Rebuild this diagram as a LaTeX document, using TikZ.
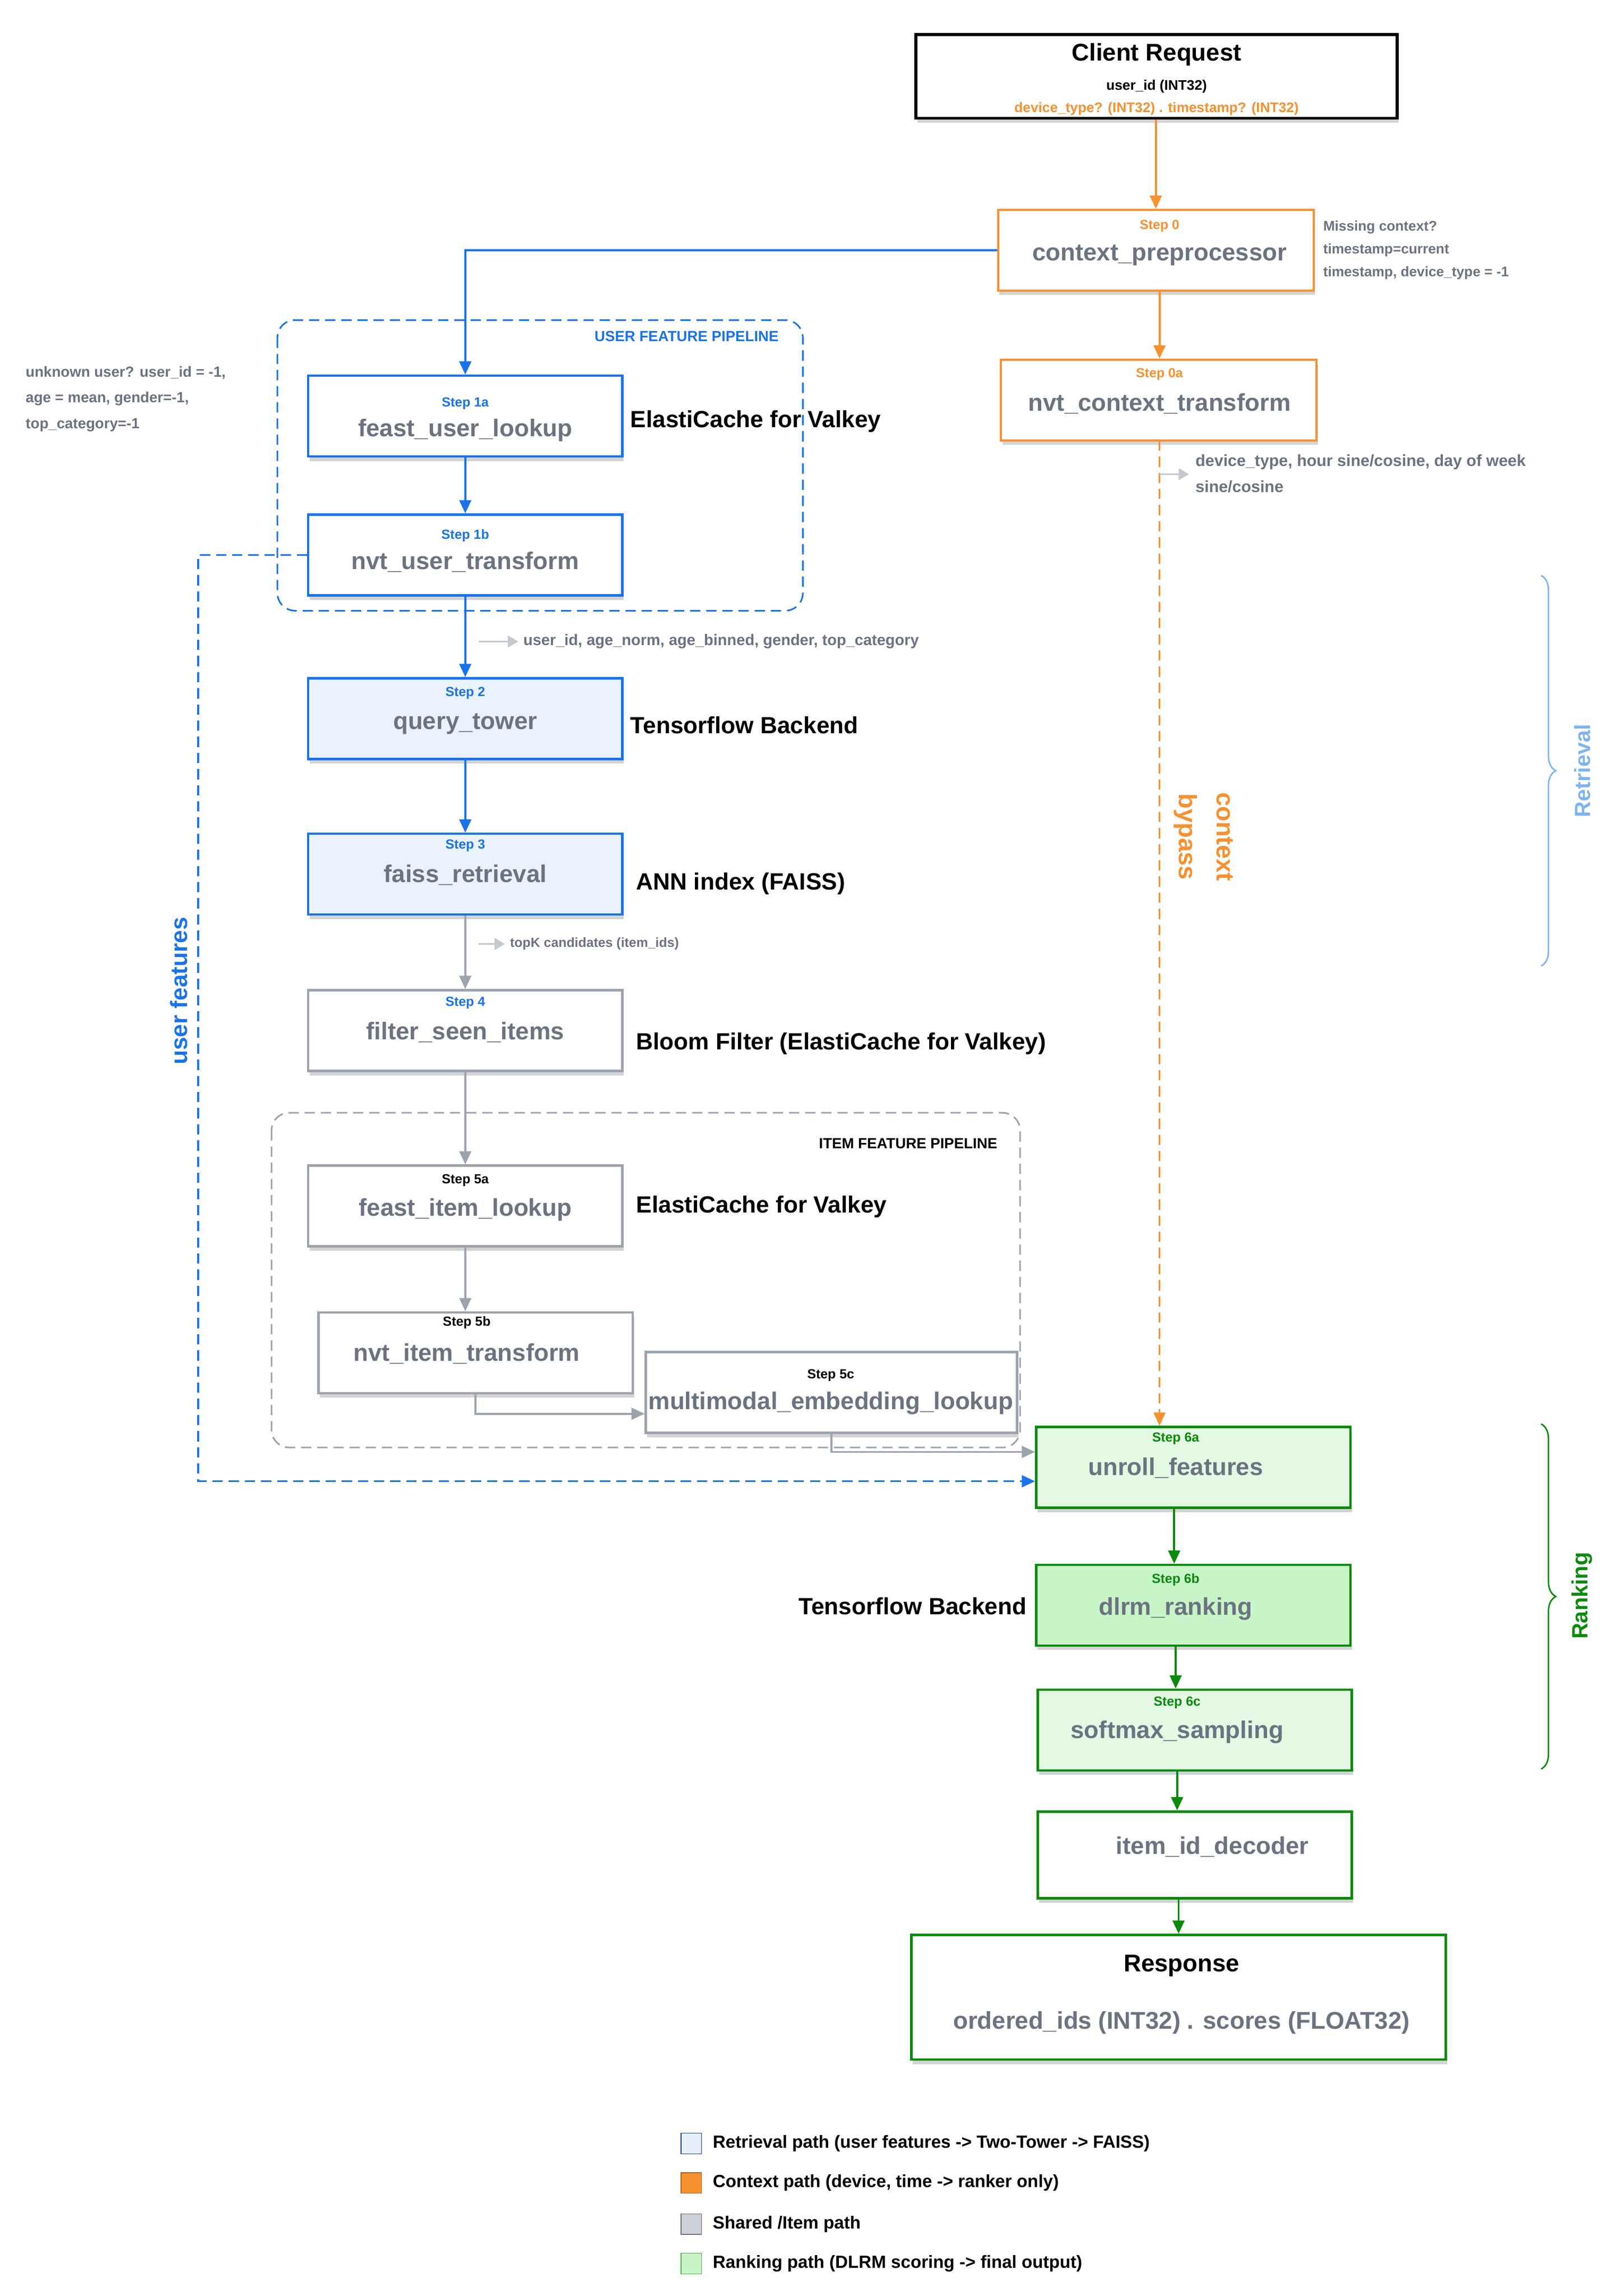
\documentclass[tikz,border=0pt]{standalone}
\usepackage{fontspec}
\setmainfont{Liberation Sans}
\usetikzlibrary{arrows.meta,shadows,decorations.pathreplacing}
\definecolor{ctxorange}{RGB}{247,144,47}
\definecolor{userblue}{RGB}{26,115,232}
\definecolor{itemgray}{RGB}{156,163,175}
\definecolor{txtgray}{RGB}{107,114,128}
\definecolor{rankgreen}{RGB}{10,138,10}
\definecolor{lightblue}{RGB}{234,242,253}
\definecolor{lightgreen}{RGB}{227,249,227}
\definecolor{midgreen}{RGB}{200,245,200}
\definecolor{bracelblue}{RGB}{125,180,240}
\tikzset{
  box/.style={draw, line width=1.6pt, fill=white, minimum width=214pt, minimum height=55pt,
    drop shadow={opacity=0.35, shadow xshift=1pt, shadow yshift=-3pt}},
  stepl/.style={font=\fontsize{9}{9}\selectfont\bfseries},
  fname/.style={text=txtgray, font=\fontsize{16.5}{17}\selectfont\bfseries},
  svc/.style={anchor=west, font=\fontsize{16}{17}\selectfont\bfseries},
  note/.style={text=txtgray, font=\fontsize{9.5}{15.5}\selectfont\bfseries, align=left},
  flow/.style={line width=1.4pt, -{Triangle[length=9pt,width=8pt]}},
  longdash/.style={dash pattern=on 7pt off 4pt},
  hint/.style={draw=itemgray!60, line width=1pt, -{Triangle[length=7pt,width=8pt]}},
}
\begin{document}
\begin{tikzpicture}[x=1pt,y=-1pt]
\useasboundingbox (0,0) rectangle (1100,1564);

% context path
\node[box, line width=2pt, draw=black, minimum width=328pt, minimum height=57pt] (req) at (788,52) {};
\node[font=\fontsize{16.5}{17}\selectfont\bfseries] (req-t) at (788,37) {Client Request};
\node[font=\fontsize{9.5}{10}\selectfont\bfseries] (req-u) at (788,59) {user\_id (INT32)};
\node[text=ctxorange, font=\fontsize{9.5}{10}\selectfont\bfseries] (req-c) at (788,74) {device\_type? (INT32) . timestamp? (INT32)};

\node[box, draw=ctxorange, minimum width=215pt] (cp) at (787.5,170.5) {};
\node[stepl, text=ctxorange] (cp-s) at (790,154) {Step 0};
\node[fname] (cp-n) at (790,174) {context\_preprocessor};
\node[note, anchor=north west] (cp-note) at (898,147) {Missing context?\\timestamp=current\\timestamp, device\_type = -1};

\node[box, draw=ctxorange, minimum width=215pt] (nct) at (789.5,272.5) {};
\node[stepl, text=ctxorange] (nct-s) at (790,255) {Step 0a};
\node[fname] (nct-n) at (790,275) {nvt\_context\_transform};
\coordinate (nct-h) at (796,323);
\node[note, anchor=north west, font=\fontsize{11}{18}\selectfont\bfseries] (nct-note) at (811,306) {device\_type, hour sine/cosine, day of week\\sine/cosine};
\node[rotate=-90, text=ctxorange, align=center, font=\fontsize{17}{26}\selectfont\bfseries] (bypass) at (820,570) {context\\bypass};

% user feature pipeline
\draw[userblue, longdash, line width=1.1pt, rounded corners=12pt] (189,218) rectangle (547,416);
\node[anchor=east, text=userblue, font=\fontsize{10}{10}\selectfont\bfseries] (ufp) at (534,229) {USER FEATURE PIPELINE};
\node[note, anchor=north west, font=\fontsize{10}{17.5}\selectfont\bfseries] (unk) at (14,246) {unknown user? user\_id = -1,\\age = mean, gender=-1,\\top\_category=-1};

\node[box, draw=userblue] (ful) at (317,283.5) {};
\node[stepl, text=userblue] (ful-s) at (317,275) {Step 1a};
\node[fname] (ful-n) at (317,293) {feast\_user\_lookup};
\node[svc] (ful-v) at (426,287) {ElastiCache for Valkey};

\node[box, draw=userblue] (nut) at (317,378) {};
\node[stepl, text=userblue] (nut-s) at (317,365) {Step 1b};
\node[fname] (nut-n) at (317,383) {nvt\_user\_transform};

\node[note, anchor=west, font=\fontsize{10.5}{11}\selectfont\bfseries] (uhint) at (353,437) {user\_id, age\_norm, age\_binned, gender, top\_category};
\coordinate (uhint-a) at (326,437);

\node[box, draw=userblue, fill=lightblue] (qt) at (317,489.5) {};
\node[stepl, text=userblue] (qt-s) at (317,472) {Step 2};
\node[fname] (qt-n) at (317,493) {query\_tower};
\node[svc] (qt-v) at (426,494) {Tensorflow Backend};

\node[box, draw=userblue, fill=lightblue] (fr) at (317,595.5) {};
\node[stepl, text=userblue] (fr-s) at (317,576) {Step 3};
\node[fname] (fr-n) at (317,596) {faiss\_retrieval};
\node[svc] (fr-v) at (430,602) {ANN index (FAISS)};

\node[note, anchor=west, font=\fontsize{9}{10}\selectfont\bfseries] (khint) at (344,643) {topK candidates (item\_ids)};
\coordinate (khint-a) at (326,643);

\node[box, draw=itemgray] (fsi) at (317,702) {};
\node[stepl, text=userblue] (fsi-s) at (317,683) {Step 4};
\node[fname] (fsi-n) at (317,703) {filter\_seen\_items};
\node[svc] (fsi-v) at (430,711) {Bloom Filter (ElastiCache for Valkey)};

% item feature pipeline
\draw[itemgray, longdash, line width=1.1pt, rounded corners=12pt] (185,758) rectangle (695,986);
\node[anchor=east, font=\fontsize{10}{10}\selectfont\bfseries] (ifp) at (683,779) {ITEM FEATURE PIPELINE};

\node[box, draw=itemgray] (fil) at (317,821.5) {};
\node[stepl] (fil-s) at (317,804) {Step 5a};
\node[fname] (fil-n) at (317,824) {feast\_item\_lookup};
\node[svc] (fil-v) at (430,822) {ElastiCache for Valkey};

\node[box, draw=itemgray] (nit) at (324,921.5) {};
\node[stepl] (nit-s) at (318,901) {Step 5b};
\node[fname] (nit-n) at (318,922) {nvt\_item\_transform};

\node[box, draw=itemgray, minimum width=253pt] (mel) at (566.5,948.5) {};
\node[stepl] (mel-s) at (566,937) {Step 5c};
\node[fname] (mel-n) at (566,956) {multimodal\_embedding\_lookup};

% ranking path
\node[box, draw=rankgreen, fill=lightgreen] (uf) at (813,999.5) {};
\node[stepl, text=rankgreen] (uf-s) at (801,980) {Step 6a};
\node[fname] (uf-n) at (801,1000) {unroll\_features};

\node[box, draw=rankgreen, fill=midgreen] (dr) at (813,1093.5) {};
\node[stepl, text=rankgreen] (dr-s) at (801,1076) {Step 6b};
\node[fname] (dr-n) at (801,1096) {dlrm\_ranking};
\node[svc, anchor=east] (dr-v) at (703,1094) {Tensorflow Backend};

\node[box, draw=rankgreen, fill=lightgreen] (ss) at (814,1178.5) {};
\node[stepl, text=rankgreen] (ss-s) at (802,1160) {Step 6c};
\node[fname] (ss-n) at (802,1180) {softmax\_sampling};

\node[box, draw=rankgreen, minimum height=59pt] (dec) at (814,1263.5) {};
\node[fname] (dec-n) at (826,1258) {item\_id\_decoder};

\node[box, draw=rankgreen, minimum width=364pt, minimum height=85pt] (resp) at (803,1360.5) {};
\node[font=\fontsize{16.5}{17}\selectfont\bfseries] (resp-t) at (805,1339) {Response};
\node[fname] (resp-n) at (805,1378) {ordered\_ids (INT32) . scores (FLOAT32)};

% connectors
\draw[flow, ctxorange] (req.south -| cp) -- (cp.north);
\draw[flow, ctxorange] (790,198) -- (nct.north -| 790,0);
\draw[flow, ctxorange, longdash, line width=1.1pt] (790,300) -- (uf.north -| 790,0);
\draw[hint] (790,323) -- (nct-h) -- ++(14,0);
\draw[flow, userblue] (cp.west) -| (ful.north);
\draw[flow, userblue] (ful) -- (nut);
\draw[flow, userblue] (nut) -- (qt);
\draw[flow, userblue] (qt) -- (fr);
\draw[flow, itemgray] (fr) -- (fsi);
\draw[flow, itemgray] (fsi) -- (fil);
\draw[flow, itemgray] (fil.south) -- (fil.south |- nit.north);
\draw[flow, itemgray] (nit.south) |- (mel.west |- 0,963);
\draw[flow, itemgray] (mel.south) |- (uf.west |- 0,989);
\draw[flow, userblue, longdash, line width=1.3pt] (nut.west) -| (135,1009) -- (uf.west |- 0,1009);
\node[rotate=90, text=userblue, font=\fontsize{16}{17}\selectfont\bfseries] (ufeat) at (122,675) {user features};
\draw[hint] (uhint-a) -- (uhint.west);
\draw[hint] (khint-a) -- (khint.west);
\draw[flow, rankgreen] (uf.south -| 800,0) -- (dr.north -| 800,0);
\draw[flow, rankgreen] (dr.south -| 801,0) -- (ss.north -| 801,0);
\draw[flow, rankgreen] (ss.south -| 802,0) -- (dec.north -| 802,0);
\draw[flow, rankgreen] (dec.south -| 803,0) -- (resp.north -| 803,0);

% braces
\draw[bracelblue, line width=1pt, decorate, decoration={brace, amplitude=10pt}] (1050,392) -- (1050,658);
\node[rotate=90, text=bracelblue, font=\fontsize{15}{16}\selectfont\bfseries] (retr) at (1078,525) {Retrieval};
\draw[rankgreen, line width=1pt, decorate, decoration={brace, amplitude=10pt}] (1050,970) -- (1050,1205);
\node[rotate=90, text=rankgreen, font=\fontsize{15}{16}\selectfont\bfseries] (rank) at (1078,1087) {Ranking};

% legend
\foreach \y/\fc/\dc/\t in {1460/lightblue!70!userblue!30/userblue!60!black/{Retrieval path (user features -> Two-Tower -> FAISS)},
  1487/ctxorange/ctxorange!70!black/{Context path (device, time -> ranker only)},
  1515/itemgray!50/txtgray/{Shared /Item path},
  1542/midgreen/rankgreen!70/{Ranking path (DLRM scoring -> final output)}}
  \node[draw=\dc, fill=\fc, minimum size=14pt, inner sep=0pt, label={[anchor=west, font=\fontsize{12}{12}\selectfont\bfseries, xshift=4pt]east:\t}] at (471,\y) {};
\end{tikzpicture}
\end{document}
